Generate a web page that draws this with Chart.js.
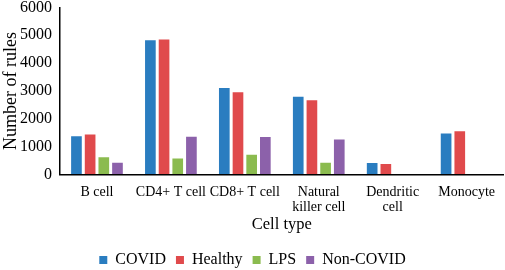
<!DOCTYPE html>
<html>
<head>
<meta charset="utf-8">
<script src="https://cdn.jsdelivr.net/npm/chart.js@4/dist/chart.umd.min.js"></script>
<style>
html,body{margin:0;padding:0;background:#fff;}
#wrap{width:505px;height:270px;position:relative;}
</style>
</head>
<body>
<div id="wrap"><canvas id="c" width="505" height="270"></canvas></div>
<script>
const categories = ["B cell", "CD4+ T cell", "CD8+ T cell", ["Natural", "killer cell"], ["Dendritic", "cell"], "Monocyte"];
const covid    = [1370, 4820, 3100, 2790, 410, 1470];
const healthy  = [1430, 4850, 2950, 2660, 370, 1550];
const lps      = [620, 570, 710, 420, null, null];
const nonCovid = [420, 1350, 1340, 1250, null, null];
const yTicks = [0, 1000, 2000, 3000, 4000, 5000, 6000];

const font = "'Liberation Serif', 'Times New Roman', serif";
Chart.defaults.font.family = font;
Chart.defaults.color = '#000';

new Chart(document.getElementById('c'), {
  type: 'bar',
  data: {
    labels: categories,
    datasets: [
      {label: 'COVID', data: covid, backgroundColor: '#2a7dc0'},
      {label: 'Healthy', data: healthy, backgroundColor: '#e04a4c'},
      {label: 'LPS', data: lps, backgroundColor: '#8bbb4f'},
      {label: 'Non-COVID', data: nonCovid, backgroundColor: '#8c61aa'}
    ]
  },
  options: {
    responsive: false,
    animation: false,
    devicePixelRatio: 1,
    layout: {padding: {left: 0, right: 0, top: 0, bottom: -8}},
    datasets: {bar: {categoryPercentage: 0.74, barPercentage: 0.78}},
    plugins: {
      legend: {
        position: 'bottom',
        labels: {boxWidth: 8, boxHeight: 8, font: {size: 16, family: font}, padding: 10, color: '#000'}
      },
      tooltip: {enabled: false}
    },
    scales: {
      x: {
        grid: {display: false, drawTicks: false},
        border: {display: true, color: '#000', width: 1.5},
        ticks: {font: {size: 14, family: font, lineHeight: 1.1}, padding: 10, maxRotation: 0, autoSkip: false},
        title: {display: true, text: 'Cell type', font: {size: 16.5, family: font}, padding: {top: -10, bottom: 7}}
      },
      y: {
        min: 0, max: 6000,
        afterBuildTicks: (axis) => { axis.ticks = yTicks.map(v => ({value: v})); },
        afterFit: (axis) => { axis.width = 60; },
        grid: {display: true, drawOnChartArea: false, drawTicks: true, tickLength: 7, color: 'rgba(0,0,0,0)', tickColor: 'rgba(0,0,0,0)'},
        border: {display: true, color: '#000', width: 1.5},
        ticks: {font: {size: 16, family: font, lineHeight: 0.8}, padding: 1, callback: (v) => String(v)},
        title: {display: true, text: 'Number of rules', font: {size: 18, family: font}, padding: {top: 0, bottom: 0}}
      }
    }
  }
});
</script>
</body>
</html>
